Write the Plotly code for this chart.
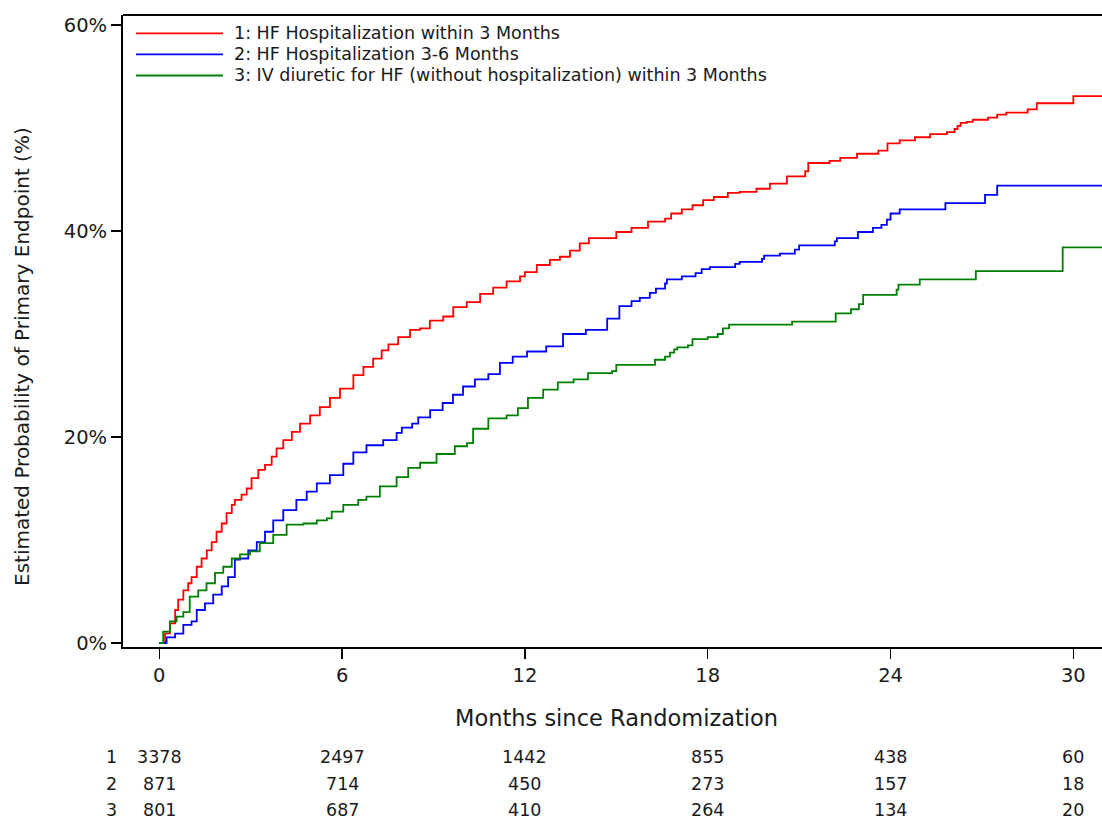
import plotly.graph_objects as go

# ---------------- data ----------------
months_ticks = [0, 6, 12, 18, 24, 30]

red_t = [0, 0.19, 0.35, 0.52, 0.62, 0.79, 0.95, 1.06, 1.23, 1.39, 1.56, 1.72, 1.88, 2.05, 2.21, 2.38,
         2.48, 2.7, 2.87, 3.03, 3.25, 3.47, 3.69, 3.85, 4.07, 4.35, 4.62, 4.95, 5.27, 5.6, 5.93,
         6.37, 6.7, 7.02, 7.3, 7.52, 7.84, 8.23, 8.56, 8.88, 9.32, 9.65, 10.09, 10.53, 10.96, 11.4,
         11.84, 12.0, 12.39, 12.82, 13.15, 13.48, 13.8, 14.1, 15.0, 15.5, 16.04, 16.6, 16.8, 17.15,
         17.5, 17.85, 18.2, 18.66, 19.05, 19.6, 20.04, 20.6, 21.2, 21.3, 22.0, 22.35, 22.9, 23.6,
         23.9, 24.3, 24.8, 25.3, 25.85, 26.1, 26.2, 26.3, 26.5, 26.7, 27.2, 27.5, 27.8, 28.5, 28.8,
         30.0, 31.0]
red_p = [0, 0.94, 1.9, 3.2, 4.2, 5.1, 5.8, 6.4, 7.4, 8.2, 9.0, 9.8, 10.8, 11.6, 12.6, 13.4,
         13.9, 14.4, 15.0, 16.0, 16.8, 17.3, 18.1, 18.9, 19.7, 20.5, 21.3, 22.1, 22.9, 23.8, 24.7,
         26.0, 26.8, 27.6, 28.4, 29.0, 29.7, 30.4, 30.55, 31.3, 31.7, 32.6, 33.1, 33.9, 34.5, 35.1,
         35.6, 36.0, 36.7, 37.2, 37.5, 38.1, 38.8, 39.3, 39.9, 40.3, 40.9, 41.2, 41.7, 42.1,
         42.5, 43.0, 43.3, 43.7, 43.8, 44.1, 44.6, 45.3, 45.8, 46.6, 46.8, 47.1, 47.5, 47.8,
         48.5, 48.8, 49.1, 49.4, 49.6, 49.9, 50.2, 50.5, 50.6, 50.8, 51.0, 51.3, 51.5, 51.8, 52.4,
         53.1, 53.1]

blue_t = [0, 0.08, 0.24, 0.52, 0.79, 1.06, 1.23, 1.5, 1.77, 2.05, 2.26, 2.48, 2.65, 2.92, 3.2, 3.47,
          3.74, 4.07, 4.5, 4.84, 5.17, 5.6, 6.04, 6.37, 6.8, 7.35, 7.79, 7.96, 8.3, 8.5, 8.89, 9.3,
          9.64, 9.97, 10.36, 10.8, 11.18, 11.6, 12.07, 12.7, 13.25, 14.0, 14.7, 15.1, 15.5, 15.77,
          16.1, 16.3, 16.6, 16.66, 17.15, 17.6, 17.8, 18.07, 18.9, 19.05, 19.78, 19.85, 20.37, 20.86,
          21.0, 22.17, 22.24, 22.93, 23.42, 23.7, 23.88, 24.0, 24.3, 25.8, 27.1, 27.5, 31.0]
blue_p = [0, 0, 0.55, 0.9, 1.75, 2.1, 3.2, 3.85, 4.7, 5.5, 6.4, 8.1, 8.2, 9.0, 9.8, 10.8,
          11.9, 12.9, 13.9, 14.7, 15.5, 16.3, 17.4, 18.5, 19.2, 19.7, 20.4, 20.9, 21.3, 21.9, 22.6, 23.3,
          24.1, 24.9, 25.6, 26.1, 27.2, 27.8, 28.3, 28.8, 30.0, 30.4, 31.5, 32.7, 33.2, 33.5,
          34.0, 34.4, 34.9, 35.3, 35.6, 35.9, 36.3, 36.5, 36.8, 37.0, 37.3, 37.6, 37.8, 38.2,
          38.6, 39.0, 39.3, 39.9, 40.3, 40.6, 41.1, 41.7, 42.1, 42.7, 43.5, 44.4, 44.4]

green_t = [0, 0.13, 0.35, 0.57, 0.79, 1.0, 1.28, 1.55, 1.83, 2.1, 2.38, 2.65, 2.98, 3.3, 3.74, 4.18,
           4.73, 5.17, 5.5, 5.66, 6.04, 6.53, 6.8, 7.24, 7.79, 8.17, 8.56, 9.1, 9.7, 10.1, 10.3, 10.8,
           11.4, 11.77, 12.1, 12.6, 13.08, 13.6, 14.07, 14.86, 15.0, 15.77, 16.27, 16.6, 16.76, 16.9,
           17.0, 17.35, 17.5, 18.0, 18.33, 18.5, 18.7, 20.77, 22.2, 22.7, 22.96, 23.1, 24.2, 24.26,
           24.96, 26.8, 29.65, 31.0]
green_p = [0, 1.1, 2.1, 2.55, 3.0, 4.5, 5.1, 5.8, 6.8, 7.4, 8.2, 8.6, 8.9, 9.7, 10.5, 11.5,
           11.6, 11.9, 12.1, 12.75, 13.4, 13.9, 14.2, 15.2, 16.1, 17.0, 17.5, 18.35, 19.1, 19.4, 20.8, 21.8,
           22.1, 22.8, 23.8, 24.6, 25.3, 25.6, 26.2, 26.4, 27.0, 27.0, 27.5, 27.8, 28.2, 28.5,
           28.7, 28.9, 29.5, 29.7, 30.0, 30.55, 30.9, 31.2, 32.0, 32.4, 32.9, 33.8, 34.3, 34.8,
           35.3, 36.1, 38.4, 38.4]

series_names = ["1: HF Hospitalization within 3 Months",
                "2: HF Hospitalization 3-6 Months",
                "3: IV diuretic for HF (without hospitalization) within 3 Months"]
series_colors = ["#ff0000", "#0000ff", "#008000"]
risk_labels = ["1", "2", "3"]
risk_1 = [3378, 2497, 1442, 855, 438, 60]
risk_2 = [871, 714, 450, 273, 157, 18]
risk_3 = [801, 687, 410, 264, 134, 20]

# ---------------- layout geometry ----------------
W, H = 1102, 821
L, R, T = 123, 0, 15
B = H - 647
FONT = "DejaVu Sans"
TXT = "#1a1a1a"

def px_x(x):
    """screen x of the reference -> paper fraction"""
    return (x - L) / (W - L - R)

def px_y(y):
    """screen y of the reference -> paper fraction"""
    return (H - B - y) / (H - B - T)

fig = go.Figure()
for t, p, name, c in zip([red_t, blue_t, green_t], [red_p, blue_p, green_p], series_names, series_colors):
    fig.add_trace(go.Scatter(x=t, y=p, mode="lines", line=dict(color=c, width=1.8, shape="hv"),
                             name=name, showlegend=False, hoverinfo="skip"))

shapes = []
annotations = []
# top frame line
shapes.append(dict(type="line", xref="paper", yref="paper", x0=0, x1=1, y0=1, y1=1,
                   line=dict(color="black", width=2)))
# manual legend
leg_y = [33.3, 54.3, 75.5]
for yy, name, c in zip(leg_y, series_names, series_colors):
    shapes.append(dict(type="line", xref="paper", yref="paper", x0=px_x(136), x1=px_x(223),
                       y0=px_y(yy), y1=px_y(yy), line=dict(color=c, width=1.8)))
    annotations.append(dict(text=name, xref="paper", yref="paper", x=px_x(232), y=px_y(yy),
                            xanchor="left", yanchor="middle", showarrow=False,
                            font=dict(family=FONT, size=17.5, color=TXT)))

# axis titles
annotations.append(dict(text="Months since Randomization", xref="paper", yref="paper",
                        x=px_x(616), y=px_y(718), xanchor="center", yanchor="middle",
                        showarrow=False, font=dict(family=FONT, size=22.5, color=TXT)))
annotations.append(dict(text="Estimated Probability of Primary Endpoint (%)", xref="paper", yref="paper",
                        x=px_x(22), y=px_y(357), xanchor="center", yanchor="middle", textangle=-90,
                        showarrow=False, font=dict(family=FONT, size=20, color=TXT)))

# number at risk table
risk_rows = [risk_1, risk_2, risk_3]
risk_y = [757, 784, 809.5]
for lab, row, yy in zip(risk_labels, risk_rows, risk_y):
    annotations.append(dict(text=lab, xref="paper", yref="paper", x=px_x(111), y=px_y(yy),
                            xanchor="center", yanchor="middle", showarrow=False,
                            font=dict(family=FONT, size=17.5, color=TXT)))
    for m, v in zip(months_ticks, row):
        annotations.append(dict(text=str(v), xref="x", yref="paper", x=m, y=px_y(yy),
                                xanchor="center", yanchor="middle", showarrow=False,
                                font=dict(family=FONT, size=17.5, color=TXT)))

fig.update_layout(
    width=W, height=H,
    margin=dict(l=L, r=R, t=T, b=B, pad=0),
    paper_bgcolor="white", plot_bgcolor="white",
    font=dict(family=FONT, color=TXT),
    shapes=shapes, annotations=annotations,
    xaxis=dict(range=[-1.19, 30.94], tickvals=months_ticks, ticktext=[str(m) for m in months_ticks],
               showgrid=False, zeroline=False, showline=True, linecolor="black", linewidth=2,
               ticks="outside", ticklen=10, tickwidth=1.5, tickcolor="black",
               tickfont=dict(family=FONT, size=19.5, color=TXT)),
    yaxis=dict(range=[-0.39, 60.97], tickvals=[0, 20, 40, 60], ticktext=["0%", "20%", "40%", "60%"],
               showgrid=False, zeroline=False, showline=True, linecolor="black", linewidth=2,
               ticks="outside", ticklen=10, tickwidth=1.5, tickcolor="black",
               tickfont=dict(family=FONT, size=19.5, color=TXT)),
)

fig.write_html("out.html",
               config={"displayModeBar": False, "staticPlot": True},
               post_script="document.body.style.margin='0';document.body.style.overflow='hidden';"
                           "document.documentElement.style.overflow='hidden';")
